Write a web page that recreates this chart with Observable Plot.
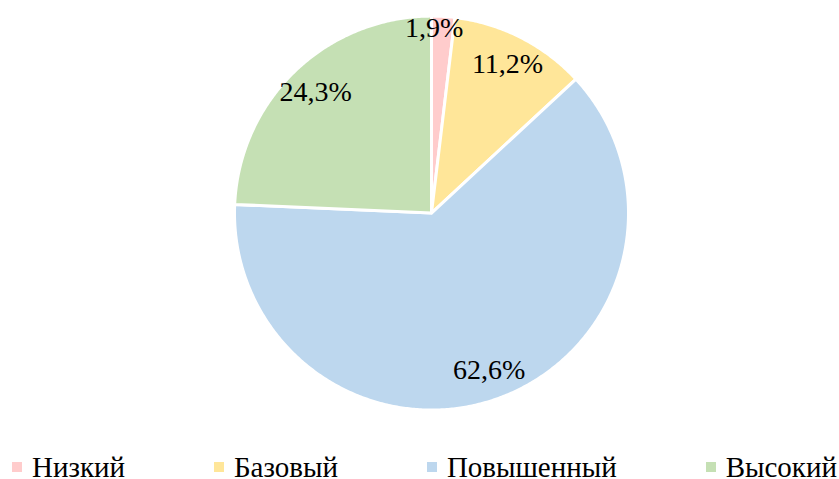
<!DOCTYPE html>
<html>
<head>
<meta charset="utf-8">
<script src="https://cdn.jsdelivr.net/npm/d3@7"></script>
<script src="https://cdn.jsdelivr.net/npm/@observablehq/plot@0.6"></script>
<style>
  html, body { margin: 0; padding: 0; background: #fff; }
  #wrap { width: 839px; height: 479px; position: relative; font-family: "Liberation Serif", "Times New Roman", serif; }
  #legend { position: absolute; left: 12px; right: 2px; top: 455px; display: flex; justify-content: space-between; font-size: 29px; line-height: 24px; color: #000; }
  .item { display: flex; align-items: center; white-space: nowrap; }
  .sw { width: 10px; height: 10px; margin-right: 10px; }
</style>
</head>
<body>
<div id="wrap">
  <div id="chart"></div>
  <div id="legend"></div>
</div>
<script>
const categories = ["Низкий", "Базовый", "Повышенный", "Высокий"];
const values = [1.9, 11.2, 62.6, 24.3];
const labels = ["1,9%", "11,2%", "62,6%", "24,3%"];
const colors = ["#FFCCCC", "#FFE699", "#BDD7EE", "#C5E0B4"];

const W = 839, H = 440, R = 197, CX = 431, CY = 212.6;
const total = d3.sum(values);

// slice polygons in unit coordinates (angle clockwise from 12 o'clock)
const pts = [];
const labelData = [];
let acc = 0;
values.forEach((v, i) => {
  const a0 = acc / total * 2 * Math.PI;
  acc += v;
  const a1 = acc / total * 2 * Math.PI;
  pts.push({cat: categories[i], x: 0, y: 0});
  const n = Math.max(4, Math.ceil((a1 - a0) / (Math.PI / 360)));
  for (let k = 0; k <= n; k++) {
    const a = a0 + (a1 - a0) * k / n;
    pts.push({cat: categories[i], x: Math.sin(a), y: Math.cos(a)});
  }
  pts.push({cat: categories[i], x: 0, y: 0});
  const small = v / total < 0.05;
  const am = small ? (a0 + a1) / 2 - 0.045 : (a0 + a1) / 2;
  const r = small ? 0.94 : 0.85;
  labelData.push({label: labels[i], x: r * Math.sin(am), y: r * Math.cos(am)});
});

const chart = Plot.plot({
  width: W,
  height: H,
  margin: 0,
  x: {domain: [-CX / R, (W - CX) / R], range: [0, W], axis: null},
  y: {domain: [-(H - CY) / R, CY / R], range: [H, 0], axis: null},
  color: {domain: categories, range: colors},
  style: {fontFamily: '"Liberation Serif", "Times New Roman", serif', background: "#fff"},
  marks: [
    Plot.line(pts, {x: "x", y: "y", z: "cat", fill: "cat", stroke: "#fff", strokeWidth: 3, strokeLinejoin: "round", curve: "linear"}),
    Plot.text(labelData, {x: "x", y: "y", text: "label", fontSize: 28, fontFamily: "Liberation Serif", fill: "#000", textAnchor: "middle", lineAnchor: "middle"})
  ]
});
document.getElementById("chart").appendChild(chart);

const leg = document.getElementById("legend");
categories.forEach((c, i) => {
  const it = document.createElement("div");
  it.className = "item";
  const sw = document.createElement("span");
  sw.className = "sw";
  sw.style.background = colors[i];
  const t = document.createElement("span");
  t.textContent = c;
  it.appendChild(sw);
  it.appendChild(t);
  leg.appendChild(it);
});
</script>
</body>
</html>
